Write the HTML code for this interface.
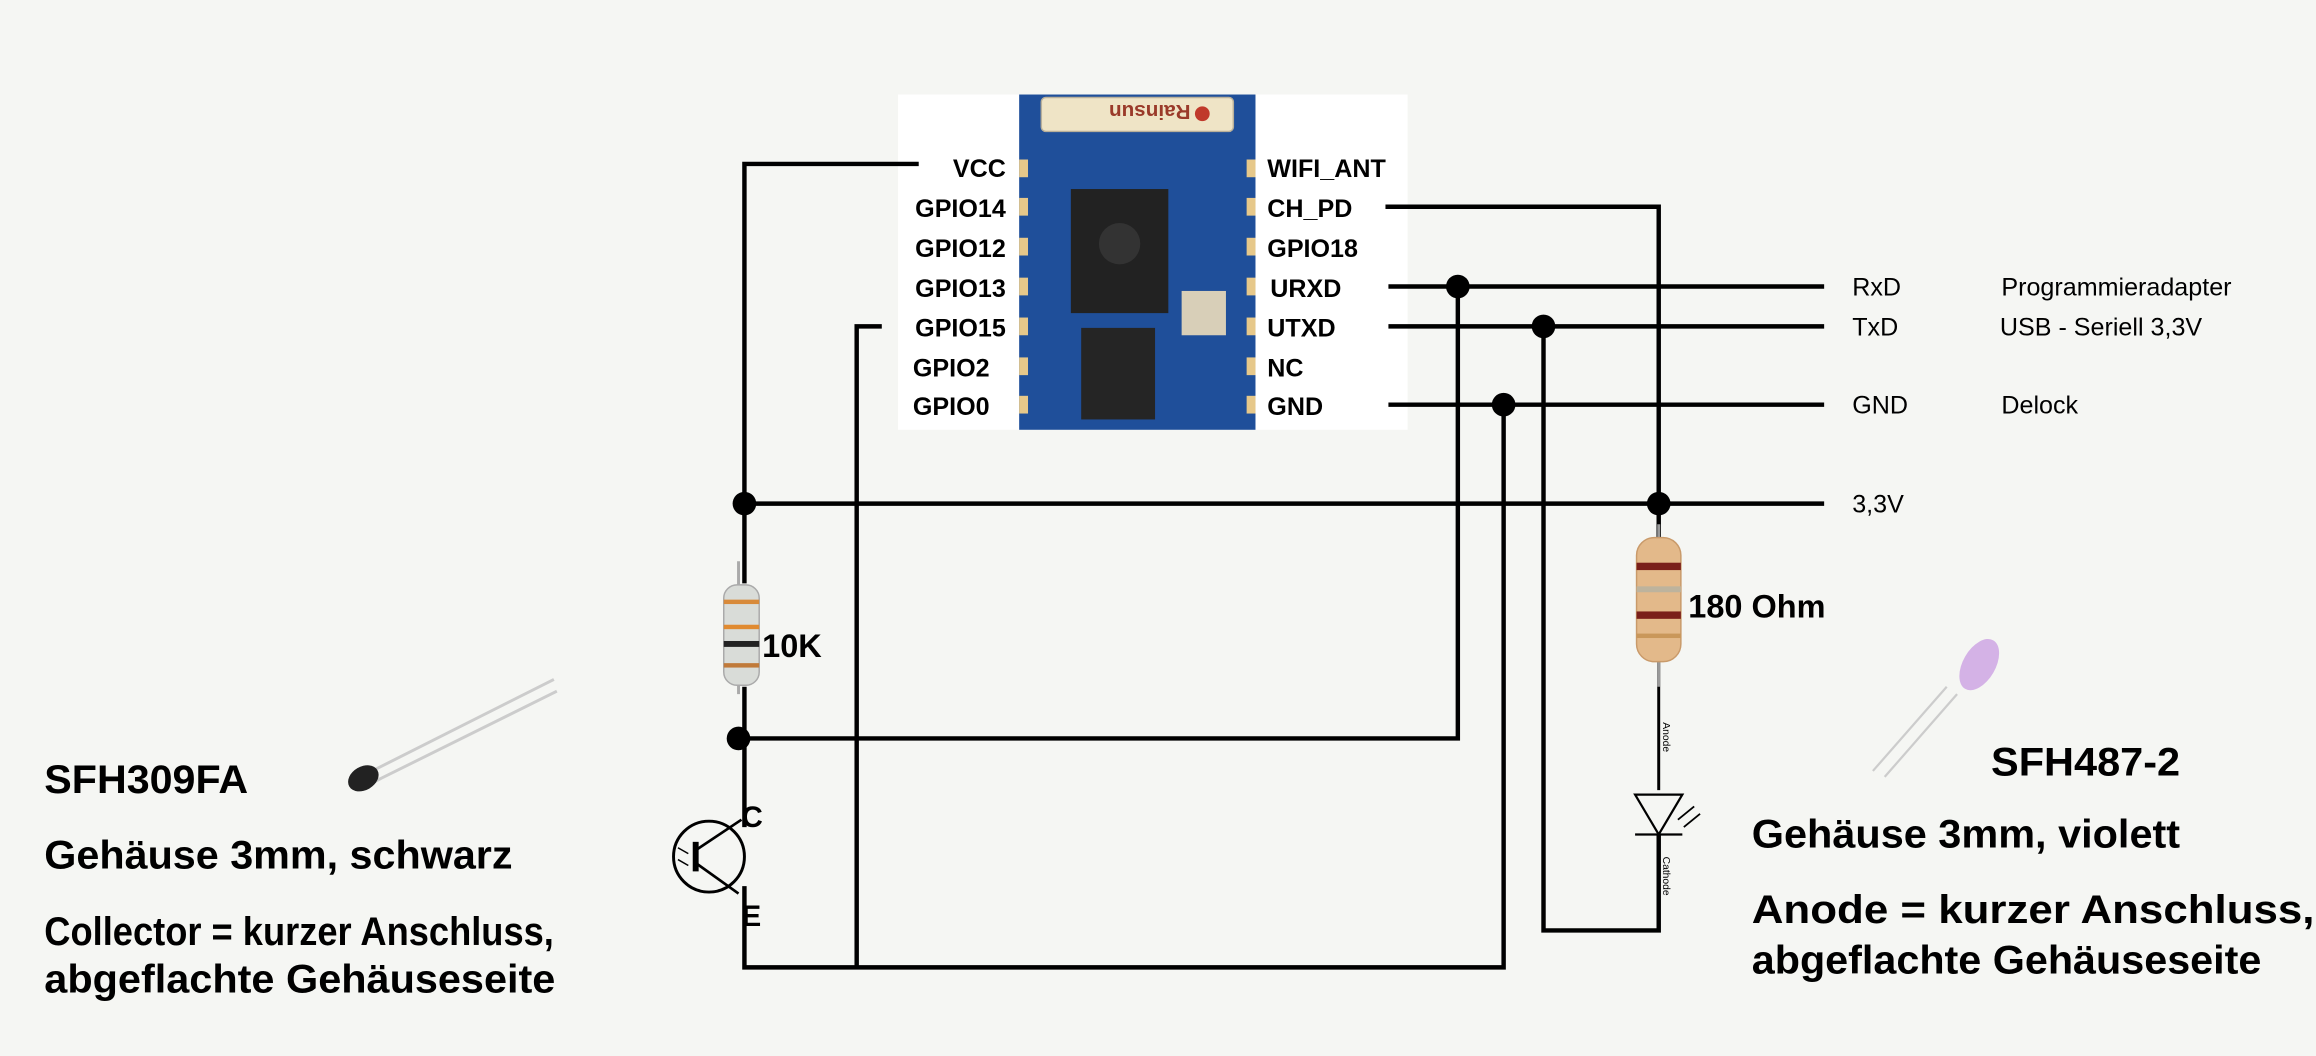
<!DOCTYPE html>
<html><head><meta charset="utf-8"><style>
html,body{margin:0;padding:0;background:#f5f6f3;}
svg{display:block;}
.b{font-family:"Liberation Sans",sans-serif;font-weight:bold;fill:#000;}
.n{font-family:"Liberation Sans",sans-serif;fill:#000;}
</style></head><body>
<svg width="2316" height="1056" viewBox="0 0 1568 715" preserveAspectRatio="none" xmlns="http://www.w3.org/2000/svg">
<rect width="1568" height="715" fill="#f5f6f3"/>
<rect x="608" y="64" width="345" height="227" fill="#ffffff"/>
<rect x="690" y="64" width="160" height="227" fill="#1f4f9a"/>
<rect x="705" y="66" width="130" height="23" rx="3" fill="#efe4c6" stroke="#b9b09a"/>
<text x="718" y="83" class="b" style="font-size:14px;fill:#9a3a2a" transform="rotate(180 762 77)">Rainsun</text>
<circle cx="814" cy="77" r="5" fill="#c0392b"/>
<rect x="725" y="128" width="66" height="84" fill="#222"/>
<circle cx="758" cy="165" r="14" fill="#333"/>
<rect x="732" y="222" width="50" height="62" fill="#252525"/>
<rect x="800" y="197" width="30" height="30" fill="#d8cfb8"/>
<g fill="#e6c88a">
<rect x="690" y="108" width="6" height="12"/><rect x="690" y="134" width="6" height="12"/><rect x="690" y="161" width="6" height="12"/><rect x="690" y="188" width="6" height="12"/><rect x="690" y="215" width="6" height="12"/><rect x="690" y="242" width="6" height="12"/><rect x="690" y="268" width="6" height="12"/>
<rect x="844" y="108" width="6" height="12"/><rect x="844" y="134" width="6" height="12"/><rect x="844" y="161" width="6" height="12"/><rect x="844" y="188" width="6" height="12"/><rect x="844" y="215" width="6" height="12"/><rect x="844" y="242" width="6" height="12"/><rect x="844" y="268" width="6" height="12"/>
</g>
<g class="b" style="font-size:17px" text-anchor="end">
<text x="681" y="120">VCC</text><text x="681" y="147">GPIO14</text><text x="681" y="174">GPIO12</text><text x="681" y="201">GPIO13</text><text x="681" y="228">GPIO15</text><text x="670" y="255">GPIO2</text><text x="670" y="281">GPIO0</text>
</g>
<g class="b" style="font-size:17px">
<text x="858" y="120">WIFI_ANT</text><text x="858" y="147">CH_PD</text><text x="858" y="174">GPIO18</text><text x="860" y="201">URXD</text><text x="858" y="228">UTXD</text><text x="858" y="255">NC</text><text x="858" y="281">GND</text>
</g>
<g stroke="#000" stroke-width="3" fill="none">
<polyline points="622,111 504,111 504,395"/>
<line x1="504" y1="465" x2="504" y2="500"/>
<polyline points="504,500 504,560"/>
<polyline points="504,600 504,655 1018,655 1018,274"/>
<polyline points="597,221 580,221 580,655"/>
<line x1="504" y1="341" x2="1235" y2="341"/>
<polyline points="938,140 1123,140 1123,365"/>
<line x1="940" y1="194" x2="1235" y2="194"/>
<polyline points="987,194 987,500 504,500"/>
<line x1="940" y1="221" x2="1235" y2="221"/>
<polyline points="1045,221 1045,630 1123,630 1123,565"/>
<line x1="940" y1="274" x2="1235" y2="274"/>
</g>
<line x1="1123" y1="447" x2="1123" y2="535" stroke="#000" stroke-width="2"/>
<g fill="#000">
<circle cx="504" cy="341" r="8"/><circle cx="1123" cy="341" r="8"/><circle cx="987" cy="194" r="8"/><circle cx="1045" cy="221" r="8"/><circle cx="1018" cy="274" r="8"/><circle cx="500" cy="500" r="8"/>
</g>
<line x1="500" y1="380" x2="500" y2="470" stroke="#aaa" stroke-width="2"/>
<rect x="490" y="396" width="24" height="68" rx="9" fill="#d9dcd8" stroke="#aaa"/>
<rect x="490" y="406" width="24" height="3" fill="#d88a3a"/><rect x="490" y="423" width="24" height="3" fill="#e08a30"/><rect x="490" y="434" width="24" height="4" fill="#222"/><rect x="490" y="449" width="24" height="3" fill="#c07a3a"/>
<text x="516" y="445" class="b" style="font-size:22px">10K</text>
<line x1="1123" y1="355" x2="1123" y2="465" stroke="#999" stroke-width="2"/>
<rect x="1108" y="364" width="30" height="84" rx="12" fill="#e3b98a" stroke="#c99a6a"/>
<rect x="1108" y="381" width="30" height="5" fill="#7a1f1a"/><rect x="1108" y="397" width="30" height="4" fill="#bdb39d"/><rect x="1108" y="414" width="30" height="5" fill="#7a1f1a"/><rect x="1108" y="429" width="30" height="3" fill="#c9975a"/>
<text x="1143" y="418" class="b" style="font-size:22px">180 Ohm</text>
<polygon points="1107,538 1139,538 1123,565" fill="none" stroke="#000" stroke-width="1.5"/>
<line x1="1107" y1="565" x2="1139" y2="565" stroke="#000" stroke-width="1.5"/>
<line x1="1136" y1="555" x2="1147" y2="546" stroke="#000" stroke-width="1.2"/><line x1="1140" y1="560" x2="1151" y2="551" stroke="#000" stroke-width="1.2"/>
<text x="1126" y="489" class="n" style="font-size:7px" transform="rotate(90 1126 489)">Anode</text>
<text x="1126" y="580" class="n" style="font-size:7px" transform="rotate(90 1126 580)">Cathode</text>
<circle cx="480" cy="580" r="24" fill="none" stroke="#000" stroke-width="2"/>
<line x1="471" y1="570" x2="471" y2="590" stroke="#000" stroke-width="4"/>
<line x1="472" y1="575" x2="502" y2="555" stroke="#000" stroke-width="1.8"/>
<line x1="472" y1="585" x2="500" y2="605" stroke="#000" stroke-width="1.8"/>
<line x1="459" y1="574" x2="466" y2="578" stroke="#000" stroke-width="1"/><line x1="459" y1="582" x2="466" y2="586" stroke="#000" stroke-width="1"/>
<line x1="504" y1="540" x2="504" y2="558" stroke="#000" stroke-width="2"/>
<text x="502" y="560" class="b" style="font-size:20px">C</text>
<text x="502" y="627" class="b" style="font-size:20px">E</text>
<line x1="250" y1="523" x2="375" y2="460" stroke="#ccc" stroke-width="2"/><line x1="252" y1="530" x2="377" y2="468" stroke="#ccc" stroke-width="2"/>
<ellipse cx="246" cy="527" rx="11" ry="8" fill="#222" transform="rotate(-30 246 527)"/>
<line x1="1268" y1="522" x2="1318" y2="465" stroke="#ccc" stroke-width="1.5"/><line x1="1276" y1="526" x2="1325" y2="470" stroke="#ccc" stroke-width="1.5"/>
<ellipse cx="1340" cy="450" rx="11" ry="19" fill="#d4b2e6" transform="rotate(30 1340 450)"/>
<g class="b" style="font-size:27px">
<text x="30" y="537" textLength="138" lengthAdjust="spacingAndGlyphs">SFH309FA</text>
<text x="30" y="588" textLength="317" lengthAdjust="spacingAndGlyphs">Gehäuse 3mm, schwarz</text>
<text x="30" y="640" textLength="345" lengthAdjust="spacingAndGlyphs">Collector = kurzer Anschluss,</text>
<text x="30" y="672" textLength="346" lengthAdjust="spacingAndGlyphs">abgeflachte Gehäuseseite</text>
<text x="1348" y="525" textLength="128" lengthAdjust="spacingAndGlyphs">SFH487-2</text>
<text x="1186" y="574" textLength="290" lengthAdjust="spacingAndGlyphs">Gehäuse 3mm, violett</text>
<text x="1186" y="625" textLength="381" lengthAdjust="spacingAndGlyphs">Anode = kurzer Anschluss,</text>
<text x="1186" y="659" textLength="345" lengthAdjust="spacingAndGlyphs">abgeflachte Gehäuseseite</text>
</g>
<g class="n" style="font-size:17px">
<text x="1254" y="200">RxD</text><text x="1254" y="227">TxD</text><text x="1254" y="280">GND</text><text x="1254" y="347">3,3V</text>
<text x="1355" y="200">Programmieradapter</text><text x="1354" y="227">USB - Seriell 3,3V</text><text x="1355" y="280">Delock</text>
</g>
</svg>
</body></html>
